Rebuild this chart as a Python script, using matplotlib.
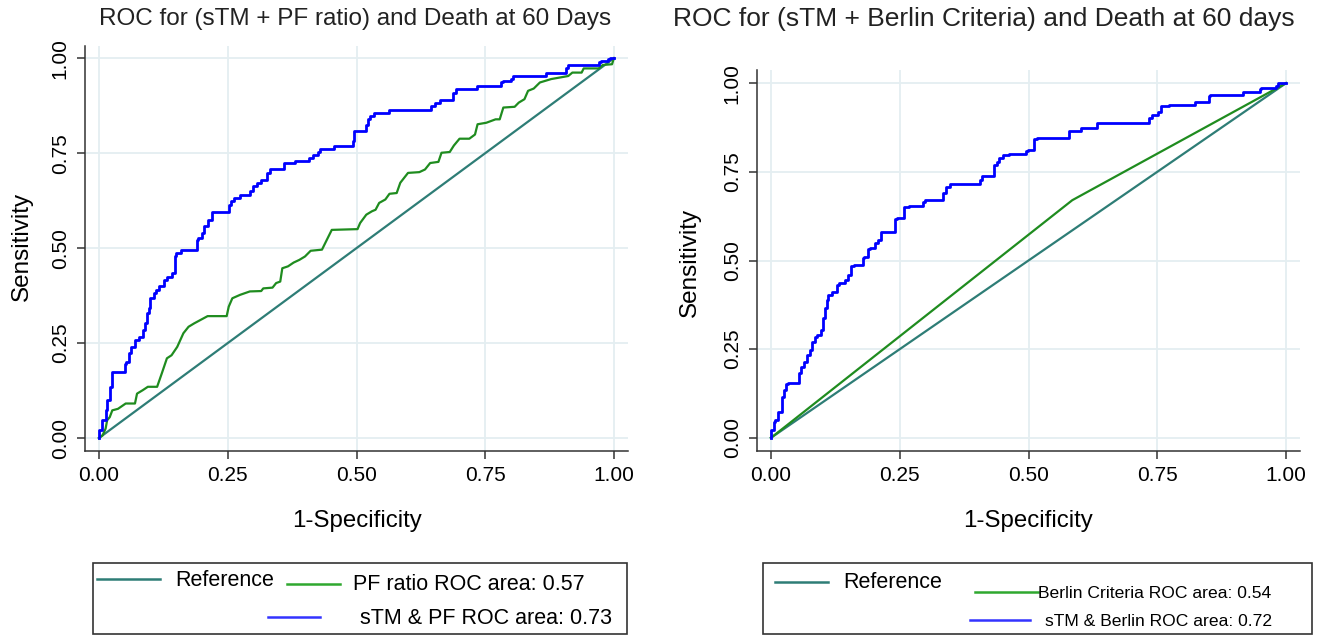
import numpy as np
import matplotlib
matplotlib.use("Agg")
import matplotlib.pyplot as plt
from matplotlib.lines import Line2D
from matplotlib.patches import Rectangle

plt.rcParams['font.family'] = ['Liberation Sans', 'DejaVu Sans']

# data
ticks = [0.0, 0.25, 0.5, 0.75, 1.0]
tick_labels = ["0.00", "0.25", "0.50", "0.75", "1.00"]

# left panel: sTM + PF ratio
pf_fpr = [0, .007, .013, .016, .021, .026, .037, .052, .07, .074, .085, .095, .113, .122,
          .132, .141, .152, .164, .174, .185, .211, .248, .252, .259, .274, .293, .315, .319,
          .337, .344, .352, .356, .367, .378, .389, .4, .411, .433, .441, .452, .502, .507,
          .519, .53, .537, .544, .556, .564, .578, .585, .6, .622, .633, .643, .659, .665,
          .681, .689, .7, .719, .73, .735, .752, .77, .778, .785, .807, .815, .826, .833,
          .844, .856, .878, .911, .919, .937, .941, .97, .978, .996, .999, 1]
pf_tpr = [0, .007, .025, .047, .055, .073, .077, .091, .091, .117, .126, .135, .135, .17,
          .21, .218, .24, .276, .293, .302, .321, .321, .346, .368, .377, .386, .387, .394,
          .396, .408, .412, .447, .452, .462, .469, .478, .493, .496, .518, .548, .55, .566,
          .588, .597, .601, .619, .628, .643, .645, .672, .698, .7, .707, .724, .727, .751,
          .753, .77, .788, .788, .799, .826, .83, .839, .839, .87, .872, .883, .892, .914,
          .92, .936, .945, .953, .962, .962, .973, .973, .982, .984, .997, 1]

stm_pf_fpr = [0, 0, .006, .006, .013, .015, .021, .026, .033, .05, .052, .059, .063, .07,
              .078, .085, .09, .093, .098, .1, .106, .111, .117, .126, .133, .141, .147, .15,
              .159, .174, .191, .193, .201, .204, .211, .219, .22, .252, .256, .263, .274,
              .293, .3, .307, .315, .326, .332, .359, .381, .407, .415, .426, .43, .456, .458,
              .493, .496, .5, .519, .522, .526, .533, .535, .563, .564, .644, .652, .663, .665,
              .687, .693, .698, .733, .735, .781, .784, .8, .804, .819, .868, .87, .907, .911,
              .915, .97, .974, .989, .993, 1]
stm_pf_tpr = [0, .02, .02, .047, .047, .073, .099, .135, .174, .174, .196, .201, .223, .24,
              .258, .267, .284, .302, .328, .342, .368, .381, .39, .399, .416, .425, .434, .478,
              .487, .496, .496, .522, .526, .54, .557, .575, .594, .594, .614, .623, .632,
              .641, .65, .663, .672, .68, .698, .707, .724, .729, .738, .746, .753, .76, .77,
              .77, .782, .808, .808, .823, .839, .848, .855, .855, .864, .864, .874, .883, .89,
              .89, .909, .918, .918, .927, .927, .936, .94, .946, .953, .953, .962, .962, .973,
              .982, .982, .99, .993, .999, 1]

# right panel: sTM + Berlin criteria
berlin_fpr = [0, .585, 1]
berlin_tpr = [0, .67, 1]

stm_b_fpr = [0, 0, .006, .008, .014, .014, .022, .022, .026, .03, .034, .055, .058, .064,
             .07, .076, .079, .086, .089, .097, .101, .105, .108, .111, .119, .129, .133,
             .143, .149, .155, .161, .179, .181, .188, .192, .203, .208, .214, .219, .24,
             .244, .258, .268, .295, .299, .307, .335, .34, .347, .367, .406, .41, .422, .434,
             .438, .442, .45, .462, .496, .499, .511, .517, .578, .583, .602, .604, .632, .636,
             .733, .739, .751, .757, .773, .823, .826, .85, .852, .917, .921, .949, .952, .98,
             .984, .996, 1]
stm_b_tpr = [0, .017, .022, .045, .05, .073, .073, .106, .116, .135, .153, .155, .182, .2,
             .214, .233, .249, .271, .285, .29, .304, .337, .365, .389, .403, .412, .431,
             .436, .445, .459, .484, .487, .506, .511, .532, .534, .548, .558, .579, .581,
             .616, .619, .652, .654, .666, .671, .671, .69, .708, .716, .716, .727, .737, .738,
             .77, .779, .788, .798, .801, .81, .812, .842, .844, .864, .866, .873, .873, .887,
             .889, .901, .911, .92, .936, .939, .948, .948, .964, .967, .974, .976, .983, .986,
             .992, 1.0, 1]

ref_col = '#2e7d76'
green = '#1f8c1f'
blue = '#0000ff'

W, H = 1322, 636
fig = plt.figure(figsize=(W / 100, H / 100), dpi=100)


def px(x, y):
    return x / W, 1 - y / H


def setup(ax, ylim):
    ax.set_xlim(-0.027, 1.027)
    ax.set_ylim(*ylim)
    ax.set_xticks(ticks)
    ax.set_xticklabels(tick_labels)
    ax.set_yticks(ticks)
    ax.set_yticklabels(tick_labels, rotation=90, va='center')
    ax.tick_params(labelsize=15, length=6, width=1.1, color='#333333', pad=5)
    ax.grid(True, color='#e4eef1', lw=1.3)
    ax.set_axisbelow(True)
    for s in ['top', 'right']:
        ax.spines[s].set_visible(False)
    for s in ['left', 'bottom']:
        ax.spines[s].set_color('#333333')
        ax.spines[s].set_linewidth(1.1)


ax1 = fig.add_axes([85 / W, 1 - 451 / H, 543 / W, 405 / H])
ax2 = fig.add_axes([757 / W, 1 - 451 / H, 543 / W, 381 / H])
setup(ax1, (-0.034, 1.032))
setup(ax2, (-0.037, 1.037))

ax1.plot([0, 1], [0, 1], color=ref_col, lw=1.6)
ax1.plot(pf_fpr, pf_tpr, color=green, lw=1.6)
ax1.plot(stm_pf_fpr, stm_pf_tpr, color=blue, lw=2, drawstyle='steps-pre')

ax2.plot([0, 1], [0, 1], color=ref_col, lw=1.6)
ax2.plot(berlin_fpr, berlin_tpr, color=green, lw=1.6)
ax2.plot(stm_b_fpr, stm_b_tpr, color=blue, lw=2, drawstyle='steps-pre')

# titles and axis labels
fig.text(*px(355, 19), "ROC for (sTM + PF ratio) and Death at 60 Days",
         fontsize=17.5, ha='center', va='center', color='#222222')
fig.text(*px(984, 19), "ROC for (sTM + Berlin Criteria) and Death at 60 days",
         fontsize=19, ha='center', va='center', color='#222222')
for x in (357, 1028):
    fig.text(*px(x, 521), "1-Specificity", fontsize=17.3, ha='center', va='center')
fig.text(*px(22, 246), "Sensitivity", fontsize=17.5, ha='center', va='center', rotation=90)
fig.text(*px(690, 262), "Sensitivity", fontsize=17.5, ha='center', va='center', rotation=90)


# legends drawn in pixel positions
def box(x0, y0, x1, y1):
    fig.add_artist(Rectangle(px(x0, y1), (x1 - x0) / W, (y1 - y0) / H,
                             transform=fig.transFigure, fill=False,
                             ec='#333333', lw=1.2))


def entry(x0, x1, y, col, label, tx, ty, size):
    fig.add_artist(Line2D([x0 / W, x1 / W], [1 - y / H, 1 - y / H],
                          transform=fig.transFigure, color=col, lw=1.8))
    fig.text(*px(tx, ty), label, fontsize=size, ha='left', va='center')


box(93, 563, 627, 634)
entry(97, 160, 579, ref_col, "Reference", 175, 580, 15.5)
entry(287, 340, 584, '#2fa82f', "PF ratio ROC area: 0.57", 353, 585, 15.5)
entry(268, 320, 617, '#3333ff', "sTM & PF ROC area: 0.73", 360, 618, 15.5)

box(763, 563, 1312, 634)
entry(775, 828, 582, ref_col, "Reference", 843, 582, 15.5)
entry(975, 1038, 592, '#2fa82f', "Berlin Criteria ROC area: 0.54", 1038, 593, 12.6)
entry(970, 1030, 620, '#3333ff', "sTM & Berlin ROC area: 0.72", 1045, 621, 12.6)

fig.savefig("out.png", dpi=100)
